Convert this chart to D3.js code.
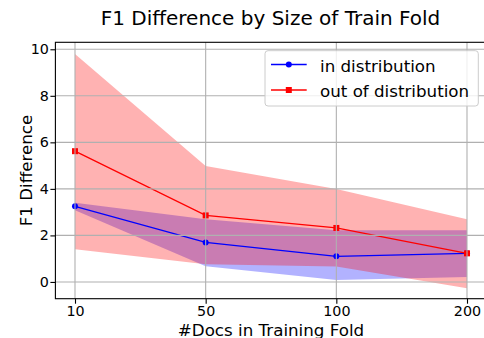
<!DOCTYPE html>
<html><head><meta charset="utf-8">
<script src="https://cdn.jsdelivr.net/npm/d3@7"></script>
<style>body{margin:0;background:#fff}svg{display:block;font-family:"DejaVu Sans",sans-serif}</style>
</head><body><svg id="c" width="484" height="338"></svg>
<script>
const categories = ["10", "50", "100", "200"];
const inDistMean = [3.25, 1.70, 1.10, 1.23];
const inDistLow  = [3.08, 0.68, 0.08, 0.21];
const inDistHigh = [3.40, 2.70, 2.22, 2.22];
const outDistMean = [5.62, 2.86, 2.32, 1.23];
const outDistLow  = [1.40, 0.76, 0.66, -0.27];
const outDistHigh = [9.80, 4.98, 4.00, 2.69];
const yTicks = [0, 2, 4, 6, 8, 10];
const seriesNames = ["in distribution", "out of distribution"];

const svg = d3.select("#c");
const L = 55.4, R = 486.6, T = 42.3, B = 298.7;
const x = d3.scalePoint().domain(categories).range([L, R]).padding(0.15);
const y = d3.scaleLinear().domain([-0.72, 10.30]).range([B, T]);

svg.append("defs").append("clipPath").attr("id","pc").append("rect")
  .attr("x", L).attr("y", T).attr("width", R - L).attr("height", B - T);

const plot = svg.append("g").attr("clip-path","url(#pc)");

function band(lo, hi, color) {
  const data = categories.map((c, i) => ({c, lo: lo[i], hi: hi[i]}));
  plot.append("path").datum(data)
    .attr("d", d3.area().x(d => x(d.c)).y0(d => y(d.lo)).y1(d => y(d.hi)))
    .attr("fill", color).attr("fill-opacity", 0.3).attr("stroke", "none");
}
band(inDistLow, inDistHigh, "#0000ff");
band(outDistLow, outDistHigh, "#ff0000");

// grid
const grid = svg.append("g");
grid.selectAll("line.gx").data(categories).join("line")
  .attr("x1", d => x(d)).attr("x2", d => x(d)).attr("y1", T).attr("y2", B)
  .attr("stroke", "#b0b0b0").attr("stroke-width", 1.1);
grid.selectAll("line.gy").data(yTicks).join("line")
  .attr("x1", L).attr("x2", R).attr("y1", d => y(d)).attr("y2", d => y(d))
  .attr("stroke", "#b0b0b0").attr("stroke-width", 1.1);

function series(vals, color, marker) {
  const data = categories.map((c, i) => ({c, v: vals[i]}));
  plot.append("path").datum(data)
    .attr("d", d3.line().x(d => x(d.c)).y(d => y(d.v)))
    .attr("fill", "none").attr("stroke", color).attr("stroke-width", 1.3);
  if (marker === "circle") {
    plot.selectAll(null).data(data).join("circle")
      .attr("cx", d => x(d.c)).attr("cy", d => y(d.v)).attr("r", 3).attr("fill", color);
  } else {
    plot.selectAll(null).data(data).join("rect")
      .attr("x", d => x(d.c) - 3).attr("y", d => y(d.v) - 3)
      .attr("width", 6).attr("height", 6).attr("fill", color);
  }
}
series(inDistMean, "#0000ff", "circle");
series(outDistMean, "#ff0000", "square");

// axes
const xAxis = svg.append("g").attr("transform", `translate(0,${B})`)
  .call(d3.axisBottom(x).tickSize(5).tickPadding(1.8));
const yAxis = svg.append("g").attr("transform", `translate(${L},0)`)
  .call(d3.axisLeft(y).tickValues(yTicks).tickSize(5).tickPadding(1.5));
[xAxis, yAxis].forEach(a => {
  a.select(".domain").remove();
  a.selectAll("text").attr("font-size", 14.3).attr("font-family", "DejaVu Sans").attr("fill", "#000");
  a.selectAll("line").attr("stroke", "#000").attr("stroke-width", 1.1);
});
// spines
svg.append("rect").attr("x", L).attr("y", T).attr("width", R - L).attr("height", B - T)
  .attr("fill", "none").attr("stroke", "#000").attr("stroke-width", 1.1);

// labels
svg.append("text").attr("x", (L + R) / 2).attr("y", 335.5).attr("text-anchor", "middle")
  .attr("font-size", 16.7).text("#Docs in Training Fold");
svg.append("text").attr("transform", `translate(32,${(T + B) / 2}) rotate(-90)`)
  .attr("text-anchor", "middle").attr("font-size", 16.7).text("F1 Difference");
svg.append("text").attr("x", 270.5).attr("y", 25).attr("text-anchor", "middle")
  .attr("font-size", 20).text("F1 Difference by Size of Train Fold");

// legend
const lg = svg.append("g");
lg.append("rect").attr("x", 265).attr("y", 50.7).attr("width", 213.3).attr("height", 55.3)
  .attr("rx", 3).attr("fill", "#fff").attr("fill-opacity", 0.8).attr("stroke", "#cccccc").attr("stroke-width", 1);
const colors = ["#0000ff", "#ff0000"];
seriesNames.forEach((n, i) => {
  const yy = 64.5 + i * 25.5;
  lg.append("line").attr("x1", 271).attr("x2", 306.7).attr("y1", yy).attr("y2", yy)
    .attr("stroke", colors[i]).attr("stroke-width", 1.3);
  if (i === 0) lg.append("circle").attr("cx", 288.8).attr("cy", yy).attr("r", 3).attr("fill", colors[i]);
  else lg.append("rect").attr("x", 285.8).attr("y", yy - 3).attr("width", 6).attr("height", 6).attr("fill", colors[i]);
  lg.append("text").attr("x", 320).attr("y", 71.7 + i * 25).attr("font-size", 16.7).text(n);
});
</script></body></html>
